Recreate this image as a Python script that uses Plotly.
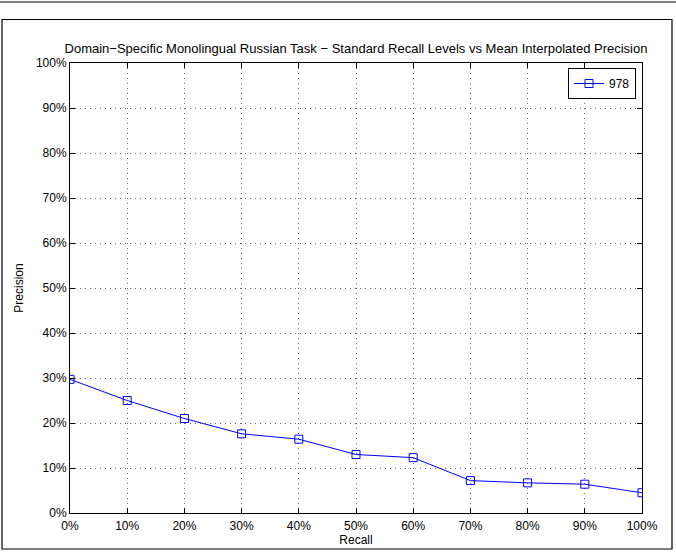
import plotly.graph_objects as go

recall = [0, 10, 20, 30, 40, 50, 60, 70, 80, 90, 100]
precision = [29.7, 25.0, 21.0, 17.6, 16.4, 13.0, 12.3, 7.2, 6.7, 6.4, 4.5]
tick_vals = [0, 10, 20, 30, 40, 50, 60, 70, 80, 90, 100]
tick_text = [f"{v}%" for v in tick_vals]
series_name = "978"
title = "Domain\u2212Specific Monolingual Russian Task \u2212 Standard Recall Levels vs Mean Interpolated Precision"

W, H = 676, 552
L, R, T, B = 70, 34, 63, 39

fig = go.Figure()
fig.add_trace(go.Scatter(
    x=recall, y=precision, name=series_name, mode="lines+markers",
    line=dict(color="#0000ff", width=1),
    marker=dict(symbol="square-open", size=8, color="#0000ff", line=dict(width=1)),
))

axis_common = dict(
    showline=True, linecolor="black", linewidth=1, mirror="ticks",
    ticks="inside", ticklen=5, tickcolor="black",
    showgrid=True, gridcolor="#666666", griddash="1px,4px", gridwidth=1,
    zeroline=False, tickfont=dict(size=12, color="black"),
    tickvals=tick_vals, ticktext=tick_text,
)
fig.update_xaxes(range=[0, 100], ticklabelstandoff=2,
                 title=dict(text="Recall", font=dict(size=12, color="black"), standoff=2), **axis_common)
fig.update_yaxes(range=[0, 100],
                 title=dict(text="Precision", font=dict(size=12, color="black"), standoff=9), **axis_common)

pw = W - L - R
ph = H - T - B
def px(xpix):
    return (xpix - L) / pw
def py(ypix):
    return (H - B - ypix) / ph

fig.update_layout(
    width=W, height=H,
    margin=dict(l=L, r=R, t=T, b=B, autoexpand=False),
    paper_bgcolor="white", plot_bgcolor="white",
    font=dict(family="Liberation Sans, Arial, sans-serif", color="black"),
    title=dict(text=title, font=dict(size=13, color="black"), x=0.5, xanchor="center",
               xref="paper", y=1 - 48 / H, yanchor="middle"),
    showlegend=True,
    legend=dict(x=px(636), y=py(68), xanchor="right", yanchor="top",
                bordercolor="black", borderwidth=1, bgcolor="white",
                font=dict(size=12, color="black")),
    shapes=[
        dict(type="rect", xref="paper", yref="paper",
             x0=px(2), x1=px(672), y0=py(19.5), y1=py(549),
             line=dict(color="black", width=1.2), layer="below"),
        dict(type="line", xref="paper", yref="paper",
             x0=px(0), x1=px(676), y0=py(2), y1=py(2),
             line=dict(color="black", width=1.2)),
    ],
)

fig.write_html("out.html", config={"displayModeBar": False},
               post_script="document.body.style.margin='0';")
